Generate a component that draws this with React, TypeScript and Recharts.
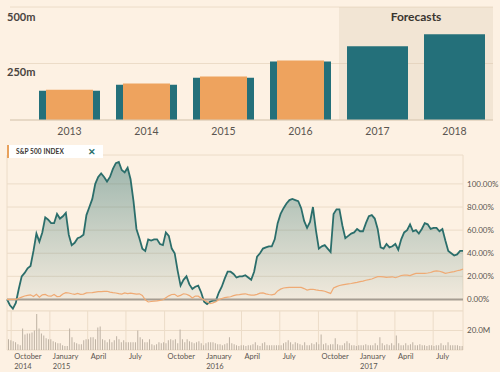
import React from "react";
import {
  BarChart,
  Bar,
  ComposedChart,
  Area,
  Line,
  XAxis,
  YAxis,
  CartesianGrid,
  ReferenceArea,
  ReferenceLine,
} from "recharts";

// revenue by year (m)
const years = ["2013", "2014", "2015", "2016", "2017", "2018"];
const revenue = [129, 156, 187, 259, 326, 379];
const actual = [134, 161, 192, 263, null, null];

// weekly % change since 21 Sep 2014
const startDate = "2014-09-21";
const stockChange = [
  0, -5, -8, -3, 9, 20, 23, 27, 29, 42,
  57, 50, 58, 71, 69, 66, 66, 74, 70, 72,
  75, 56, 47, 49, 53, 54, 56, 73, 80, 87,
  100, 106, 109, 106, 102, 106, 113, 118, 119, 112,
  110, 114, 104, 85, 61, 53, 44, 42, 52, 51,
  52, 52, 48, 47, 58, 55, 44, 40, 25, 12,
  17, 20, 13, 9, 11, 12, 6, -2, -4, -2,
  -1, -1, 6, 11, 18, 24, 24, 22, 19, 20,
  20, 21, 19, 17, 24, 37, 40, 44, 45, 46,
  46, 52, 66, 74, 79, 83, 86, 87, 86, 85,
  79, 68, 62, 67, 80, 60, 44, 46, 47, 44,
  41, 74, 78, 78, 64, 53, 55, 57, 58, 61,
  59, 59, 66, 72, 73, 70, 61, 45, 44, 48,
  45, 46, 48, 43, 52, 58, 60, 65, 59, 60,
  57, 61, 66, 65, 61, 62, 62, 59, 61, 51,
  42, 40, 38, 39, 42, 42,
];
const sp500Change = [
  0, 0, 0, 0, 1, 2, 3, 3.5, 4, 2.5,
  4.5, 2, 4, 4.3, 3, 2.8, 4.3, 2.5, 2.7, 4.7,
  5.9, 5.6, 4.9, 4.4, 5.2, 4.4, 4.6, 5.7, 5.8, 5.9,
  6.4, 6.7, 6.7, 6.9, 7.1, 6.4, 5.9, 5.6, 5, 4.7,
  5.7, 5.1, 5.4, 5, 4.6, 4.9, 3.5, -0.3, -2.2, -1.8,
  -1.4, -1.2, -0.8, -0.3, 1.5, 3.1, 4.3, 4.4, 2.6, 3.5,
  4.9, 4.5, 3.3, 1.2, 2.9, 2.8, 1, -0.4, -2, -3.7,
  -3, -2, -0.3, 0.8, 1.6, 2, 2.3, 3.3, 3.9, 4.2,
  4.6, 4.9, 4.2, 3.8, 3.8, 4.4, 5.4, 5.6, 4.8, 4.3,
  4, 4.6, 7.4, 8.9, 9.9, 10.2, 10.4, 10.4, 10.4, 10.4,
  10.4, 9.4, 8.1, 8.7, 8.8, 8.3, 7.9, 7.6, 7.1, 6.1,
  5.2, 9.9, 11.1, 12.1, 12.6, 13.1, 13.5, 13.8, 14.3, 14.8,
  15.4, 15.9, 16.6, 17.1, 17.7, 18.8, 19.7, 19.7, 19.5, 19.1,
  19.4, 19.6, 18.8, 19.6, 20.7, 21.1, 21, 20.6, 21.7, 22.6,
  22.6, 22.6, 22.6, 22.9, 23.3, 24.3, 24.8, 24.4, 23.6, 22.6,
  23.1, 23.6, 24.1, 24.8, 25.4, 26.2,
];

// traded volume (M)
const volume = [
  11, 10, 9, 8, 6, 5, 22, 16, 17, 17,
  18, 20, 37, 22, 17, 15, 12, 11, 11, 9,
  8, 7, 7, 5, 4, 4, 22, 13, 8, 7,
  6, 6, 10, 11, 11, 13, 13, 11, 23, 24,
  11, 10, 8, 11, 8, 10, 14, 11, 8, 10,
  8, 8, 8, 8, 8, 20, 13, 11, 8, 8,
  11, 6, 5, 6, 8, 7, 8, 7, 10, 11,
  10, 11, 7, 21, 11, 8, 11, 9, 8, 7,
  8, 9, 7, 5, 7, 8, 8, 8, 7, 6,
  6, 5, 6, 7, 13, 7, 6, 5, 4, 5,
  5, 4, 5, 5, 6, 8, 5, 4, 7, 8,
  5, 5, 5, 5, 5, 5, 5, 7, 8, 10,
  8, 6, 8, 7, 6, 5, 8, 5, 5, 7,
  6, 8, 6, 16, 6, 7, 5, 6, 6, 12,
  6, 5, 5, 7, 9, 7, 5, 5, 4, 5,
  5, 5, 6, 5, 5, 5, 7, 5, 13, 7,
  5, 6, 5, 7, 5, 15, 7, 5, 5, 7,
  5, 6, 8, 5, 5, 6, 5, 5, 4, 5,
  5, 4, 5, 5, 7, 5, 5, 8, 5, 5,
  5, 5, 4, 4,
];

const tickDates = [
  "2014-10-01", "2015-01-01", "2015-04-01", "2015-07-01",
  "2015-10-01", "2016-01-01", "2016-04-01", "2016-07-01",
  "2016-10-01", "2017-01-01", "2017-04-01", "2017-07-01",
];
const tickMonths = [
  "October", "January", "April", "July",
  "October", "January", "April", "July",
  "October", "January", "April", "July",
];
const tickYears = ["2014", "2015", "", "", "", "2016", "", "", "", "2017", "", ""];

const WEEK = 7 * 24 * 3600 * 1000;
const toWeek = (d: string) => (Date.parse(d) - Date.parse(startDate)) / WEEK;
const quarterTicks = tickDates.map(toWeek);

const yearData = years.map((year, i) => ({ year, revenue: revenue[i], actual: actual[i] }));
const priceData = stockChange.map((v, i) => ({ week: i, stock: v, sp500: sp500Change[i] }));
const volumeData = volume.map((v, i) => ({ idx: i, volume: v }));

const FONT = "Lato, 'Open Sans', sans-serif";
const BG = "#fdf1e3";
const TEAL = "#24707a";
const ORANGE = "#eea35e";
const GRID = "#ecdcc8";

const renderRevenueTick = ({ y, payload }: any) => {
  if (payload.value === 0) return <g key="zero" />;
  return (
    <text key={payload.value} x={7} y={y + 12} fontSize={11} fontWeight={700} fill="#4a4440" fontFamily={FONT}>
      {payload.value}m
    </text>
  );
};

const renderDateTick = ({ x, y, payload }: any) => {
  const i = quarterTicks.indexOf(payload.value);
  return (
    <g key={payload.value}>
      <text x={x + 3} y={y + 9} fontSize={7.5} fill="#5a5550" fontFamily={FONT}>
        {tickMonths[i]}
      </text>
      {tickYears[i] && (
        <text x={x + 3} y={y + 18.5} fontSize={7.5} fill="#5a5550" fontFamily={FONT}>
          {tickYears[i]}
        </text>
      )}
    </g>
  );
};

export default function App() {
  return (
    <div
      style={{
        position: "absolute",
        left: 0,
        top: 0,
        width: 500,
        height: 372,
        background: BG,
        fontFamily: FONT,
        overflow: "hidden",
      }}
    >
      {/* Revenue bars with forecasts */}
      <div style={{ position: "absolute", left: 0, top: 0 }}>
        <BarChart width={500} height={140} data={yearData} margin={{ top: 7, right: 7, left: 9, bottom: 0 }}>
          <CartesianGrid vertical={false} stroke={GRID} />
          <XAxis
            xAxisId="a"
            dataKey="year"
            padding={{ left: 21, right: 0 }}
            height={20}
            tickLine={false}
            axisLine={{ stroke: "#d9cab6" }}
            tick={{ fontSize: 10.5, fill: "#5a5550", fontFamily: FONT }}
            tickMargin={2}
          />
          <XAxis xAxisId="b" dataKey="year" padding={{ left: 21, right: 0 }} hide />
          <YAxis
            domain={[0, 500]}
            ticks={[0, 250, 500]}
            width={1}
            axisLine={false}
            tickLine={false}
            tick={renderRevenueTick}
          />
          <ReferenceArea
            xAxisId="a"
            x1="2017"
            x2="2018"
            fill="#d9c6ae"
            fillOpacity={0.28}
            stroke="none"
            label={{ value: "Forecasts", position: "insideTop", offset: 5, fontSize: 12, fontWeight: 700, fill: "#3a3530", fontFamily: FONT }}
          />
          <Bar xAxisId="a" dataKey="revenue" fill={TEAL} barSize={61} isAnimationActive={false} />
          <Bar xAxisId="b" dataKey="actual" fill={ORANGE} barSize={47} isAnimationActive={false} />
        </BarChart>
      </div>

      {/* Share price vs S&P 500 */}
      <div style={{ position: "absolute", left: 0, top: 150 }}>
        <ComposedChart width={500} height={161} data={priceData} margin={{ top: 5, right: 0, left: 7, bottom: 0 }}>
          <defs>
            <linearGradient id="stockFill" x1="0" y1="0" x2="0" y2="1">
              <stop offset="0%" stopColor="#2b6e6b" stopOpacity={0.45} />
              <stop offset="100%" stopColor="#2b6e6b" stopOpacity={0.03} />
            </linearGradient>
          </defs>
          <CartesianGrid stroke={GRID} />
          <XAxis
            dataKey="week"
            type="number"
            domain={[0, 155]}
            ticks={quarterTicks}
            interval={0}
            height={0}
            tick={false}
            tickLine={false}
            axisLine={false}
          />
          <YAxis
            orientation="right"
            domain={[-10, 125]}
            ticks={[0, 20, 40, 60, 80, 100]}
            width={37}
            axisLine={false}
            tickLine={false}
            tickSize={0}
            tickMargin={4}
            tickFormatter={(v) => v.toFixed(2) + "%"}
            tick={{ fontSize: 8, fill: "#5a5550", fontFamily: FONT, textAnchor: "start" }}
          />
          <ReferenceLine y={0} stroke="#a59d92" strokeWidth={2} />
          <Area
            type="linear"
            dataKey="stock"
            stroke="#2b6e6b"
            strokeWidth={1.8}
            fill="url(#stockFill)"
            fillOpacity={1}
            isAnimationActive={false}
          />
          <Line type="linear" dataKey="sp500" stroke="#efaa74" strokeWidth={1.2} dot={false} isAnimationActive={false} />
        </ComposedChart>
      </div>

      {/* Volume */}
      <div style={{ position: "absolute", left: 0, top: 310 }}>
        <ComposedChart width={500} height={62} data={volumeData} margin={{ top: 1, right: 0, left: 7, bottom: 0 }}>
          <CartesianGrid stroke={GRID} xAxisId="time" />
          <XAxis xAxisId="vol" dataKey="idx" type="category" hide />
          <XAxis
            xAxisId="time"
            dataKey="idx"
            type="number"
            domain={[0, 155]}
            ticks={quarterTicks}
            interval={0}
            height={22}
            allowDataOverflow
            tickLine={false}
            axisLine={false}
            tickSize={0}
            tickMargin={0}
            tick={renderDateTick}
          />
          <YAxis
            orientation="right"
            domain={[0, 40]}
            ticks={[20]}
            width={37}
            axisLine={false}
            tickLine={false}
            tickSize={0}
            tickMargin={4}
            tickFormatter={(v) => v.toFixed(1) + "M"}
            tick={{ fontSize: 8, fill: "#5a5550", fontFamily: FONT, textAnchor: "start" }}
          />
          <Bar xAxisId="vol" dataKey="volume" fill="#bdb1a3" barSize={1} isAnimationActive={false} />
        </ComposedChart>
      </div>

      {/* Legend chip */}
      <div
        style={{
          position: "absolute",
          left: 7,
          top: 145,
          width: 96,
          height: 13,
          background: "#ffffff",
          borderLeft: "2px solid #e8a15c",
          display: "flex",
          alignItems: "center",
          justifyContent: "space-between",
          padding: "0 7px 0 7px",
          boxSizing: "border-box",
        }}
      >
        <span style={{ fontSize: 6.5, fontWeight: 700, color: "#3a3530", letterSpacing: 0.1 }}>S&amp;P 500 INDEX</span>
        <span style={{ fontSize: 9, fontWeight: 700, color: "#2b6e6b", lineHeight: 1 }}>✕</span>
      </div>
    </div>
  );
}
